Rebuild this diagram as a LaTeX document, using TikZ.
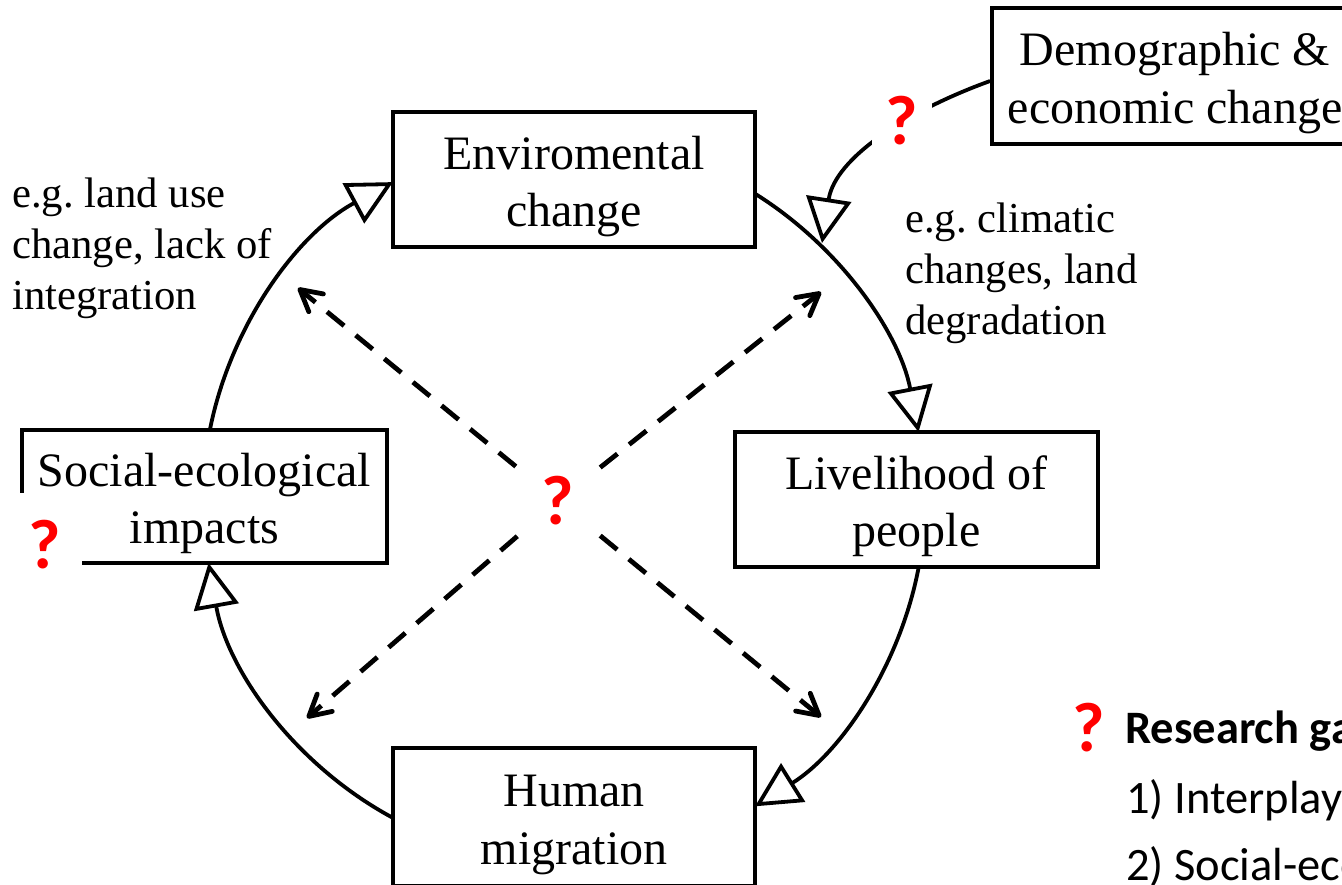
\documentclass[tikz,border=0pt]{standalone}
\usepackage{fontspec}
\setmainfont{Liberation Serif}
\newfontfamily\calibri{Carlito}
\usetikzlibrary{arrows.meta,calc}
\definecolor{qred}{RGB}{255,0,0}
\newcommand{\twol}[2]{\begin{tabular}[t]{@{}c@{}}#1\\#2\end{tabular}}
\frenchspacing
\begin{document}
\begin{tikzpicture}[x=1pt,y=1pt,
  box/.style={draw, line width=3.8pt, inner sep=0pt, minimum height=135pt,
    font=\fontsize{48}{57.5}\selectfont, text height=48pt, text depth=69pt},
  lbl/.style={inner sep=0pt, font=\fontsize{42.7}{51}\selectfont},
  leg/.style={inner sep=0pt, font=\calibri\fontsize{46.5}{46.5}\selectfont},
  qmark/.style={inner sep=0pt, fill=white, text=qred, font=\calibri\bfseries\fontsize{70}{70}\selectfont},
  cyc/.style={line width=3.8pt, -{Triangle[open, length=45pt, width=45pt]}},
  darr/.style={line width=4.8pt, dash pattern=on 22pt off 15pt,
    -{Straight Barb[length=21pt, width=23pt, line cap=round, line join=round]}}
]
\useasboundingbox (0,0) rectangle (1342,-884);
\clip (0,0) rectangle (1342,-884);

% boxes
\node[box, minimum width=362pt] (env) at (574,-179.5) {\twol{Enviromental}{change}};
\node[box, minimum width=363pt] (live) at (916.5,-499.5) {\twol{Livelihood of}{people}};
\node[box, minimum width=362pt, minimum height=138pt] (hum) at (574,-817) {\twol{Human}{migration}};
\node[box, minimum width=365pt, minimum height=133pt] (soc) at (204.5,-496.5) {\twol{Social-ecological}{impacts}};
\node[box, minimum width=366pt, minimum height=136pt] (demo) at (1175,-76) {\twol{Demographic \&}{economic change}};

% side labels
\node[lbl, anchor=base west] (lblL) at (12,-207)
  {\begin{tabular}[t]{@{}l@{}}e.g. land use\\change, lack of\\integration\end{tabular}};
\node[lbl, anchor=base west] (lblR) at (905,-232)
  {\begin{tabular}[t]{@{}l@{}}e.g. climatic\\changes, land\\degradation\end{tabular}};

% cycle arcs
\coordinate (O) at (564,-500);
\coordinate (a1) at ($(O)+(58.05:361)$);
\coordinate (a2) at ($(O)+(-10.7:361)$);
\coordinate (a3) at ($(O)+(-118.28:361)$);
\coordinate (a4) at ($(O)+(168.82:361)$);
\draw[cyc] (a1) arc[start angle=58.05, end angle=10.86, radius=361];
\draw[cyc] (a2) arc[start angle=-10.7, end angle=-58.05, radius=361];
\draw[cyc] (a3) arc[start angle=-118.28, end angle=-169.95, radius=361];
\draw[cyc] (a4) arc[start angle=168.82, end angle=118.28, radius=361];

% demographic influence
\coordinate (tipd) at (822,-243);
\draw[cyc] ([yshift=-5pt]demo.west) .. controls (907,-111) and (835,-158) .. (tipd);

% central question and dashed arrows
\node[qmark, minimum width=84pt, minimum height=70pt] (qc) at (558,-501) {?};
\coordinate (tul) at (298,-288);
\coordinate (tur) at (821,-292);
\coordinate (tll) at (307,-718);
\coordinate (tlr) at (821,-717);
\draw[darr] (qc) -- (tul);
\draw[darr] (qc) -- (tur);
\draw[darr] (qc) -- (tll);
\draw[darr] (qc) -- (tlr);

% other question marks
\node[qmark, minimum width=60pt, minimum height=66pt] (qd) at (902,-121) {?};
\node[qmark, minimum width=74pt, minimum height=104pt] (qs) at (45,-545) {?};

% legend
\node[qmark] (ql) at (1089,-728) {?};
\node[leg, anchor=base west, font=\calibri\bfseries\fontsize{46.5}{46.5}\selectfont] (rg) at (1125,-743) {Research gaps};
\node[leg, anchor=base west] (g1) at (1126,-813) {1) Interplay};
\node[leg, anchor=base west] (g2) at (1126,-880) {2) Social-ecological};
\end{tikzpicture}
\end{document}
